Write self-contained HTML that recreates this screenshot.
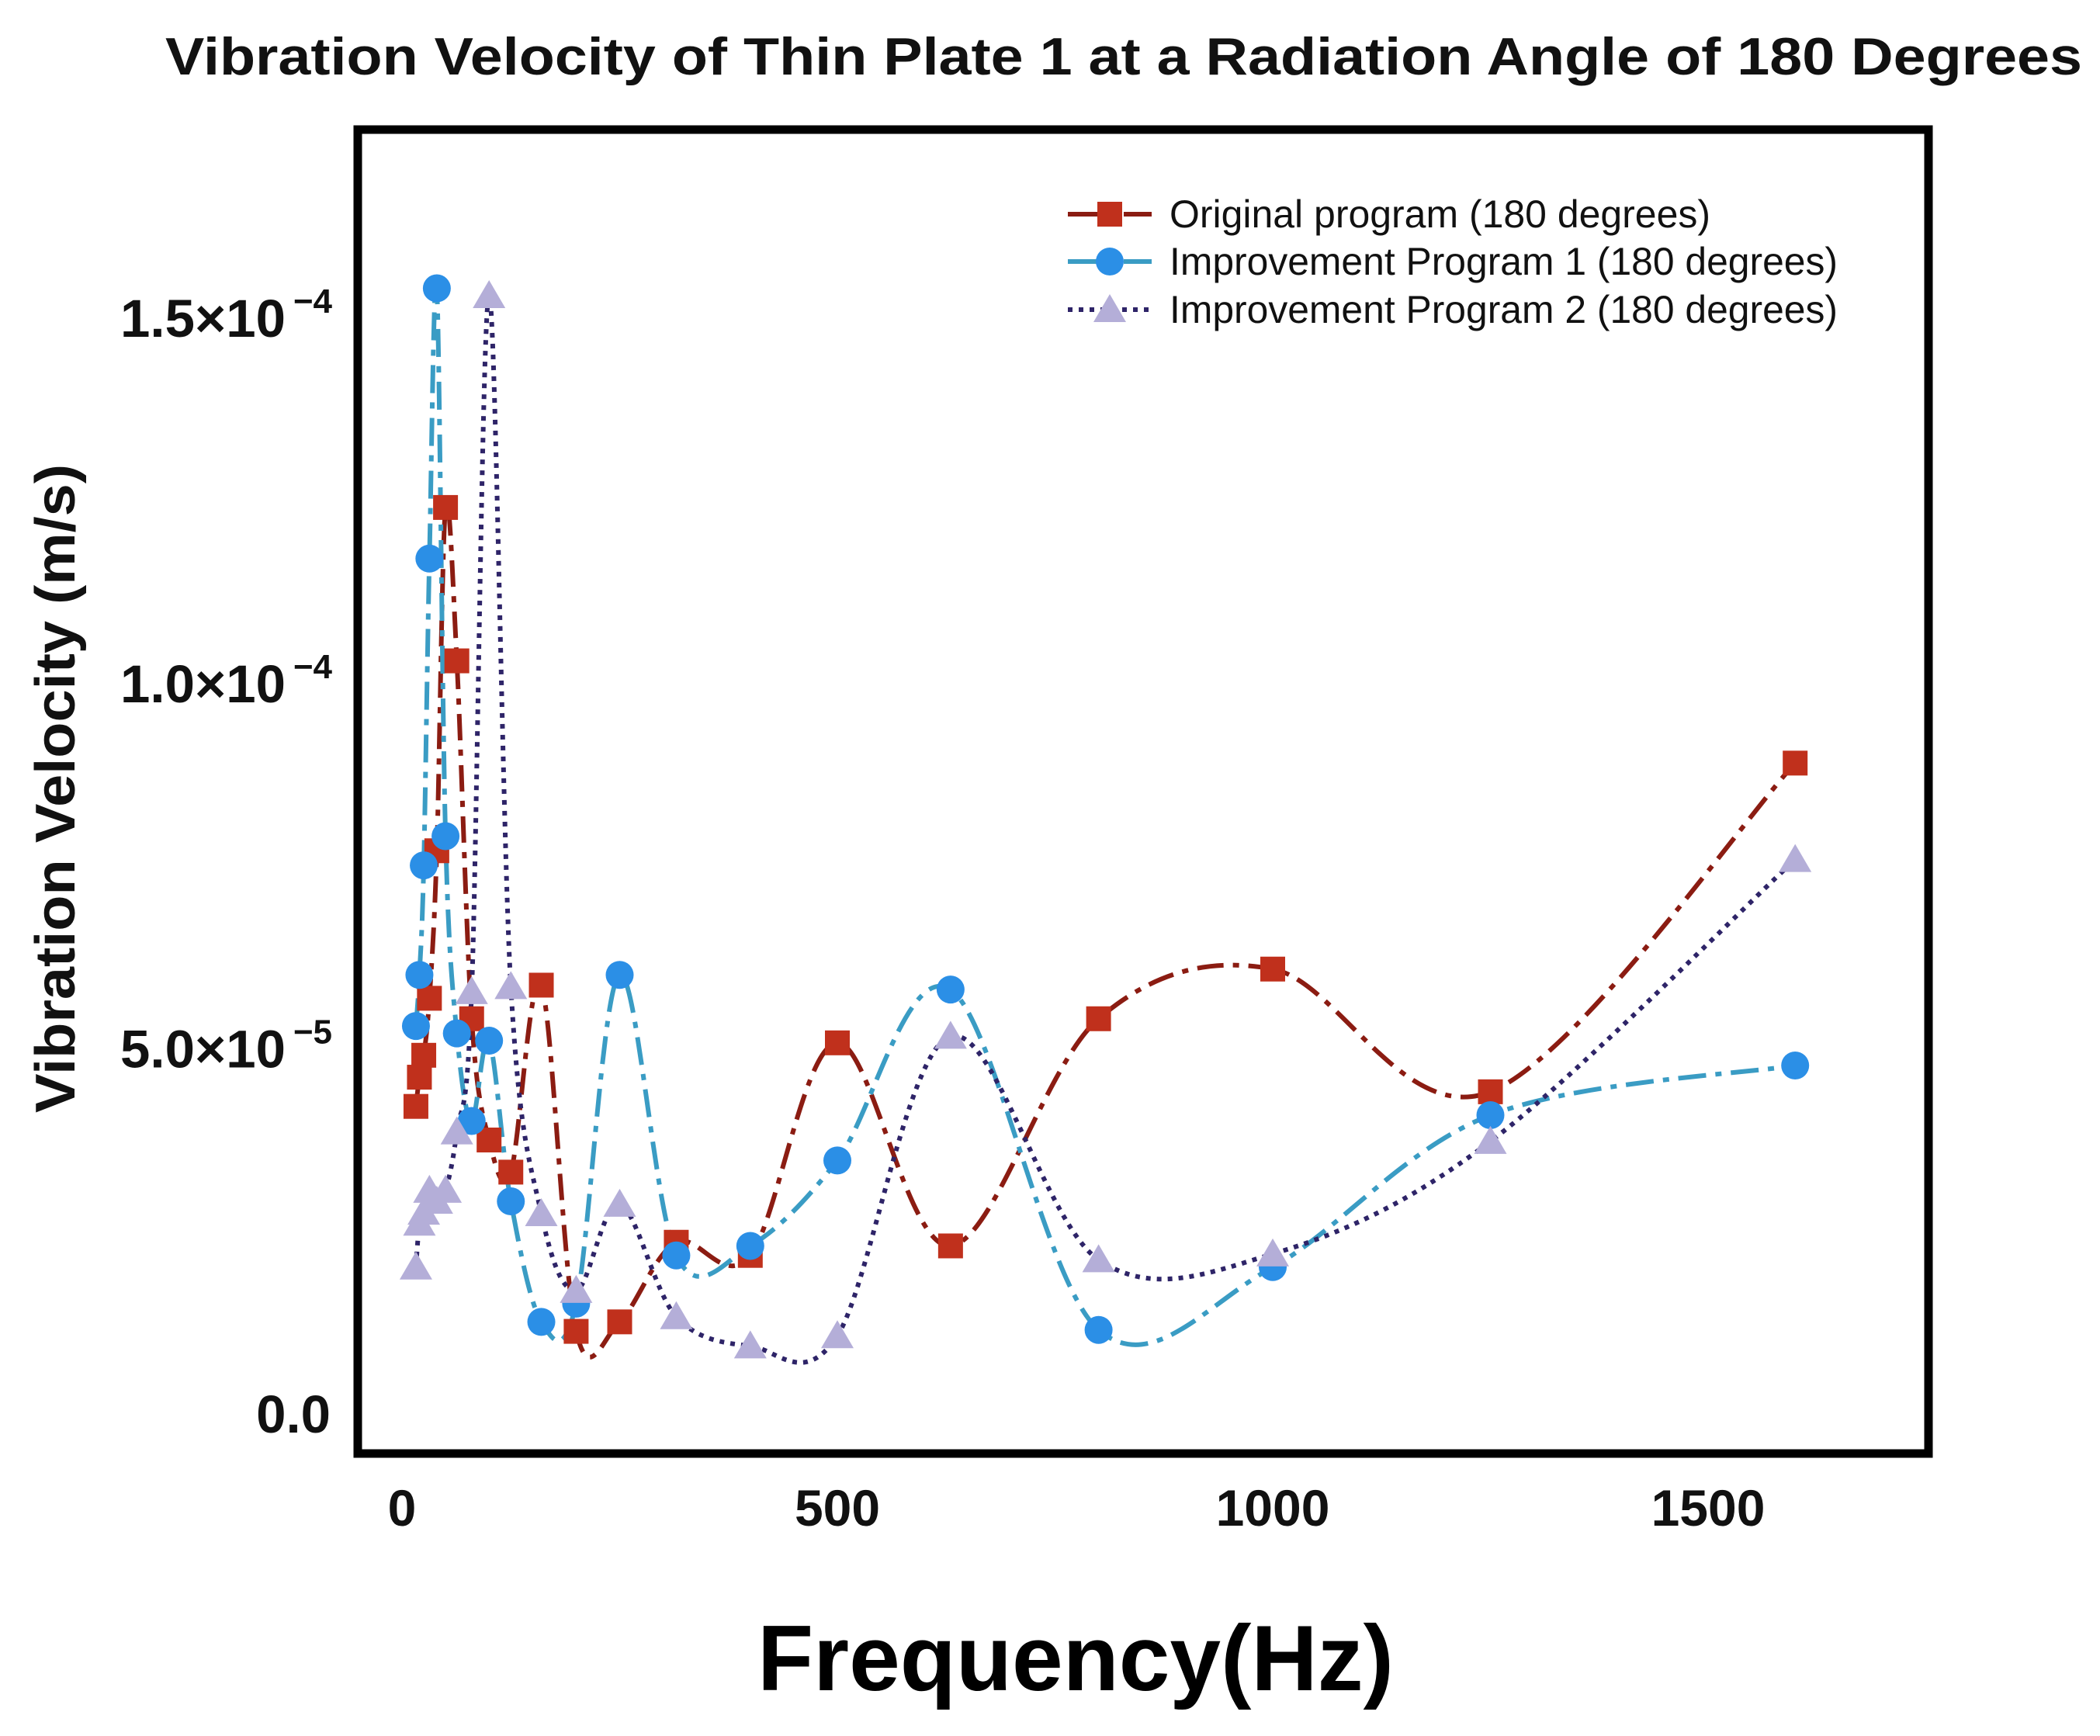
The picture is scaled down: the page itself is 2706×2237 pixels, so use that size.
<!DOCTYPE html>
<html><head><meta charset="utf-8"><style>
html,body{margin:0;padding:0;background:#fff;}
svg{display:block;font-family:"Liberation Sans",Arial,sans-serif;}
</style></head><body>
<svg id="chart" width="2706" height="2237" viewBox="0 0 2706 2237" xmlns="http://www.w3.org/2000/svg">
<text x="1448" y="96" text-anchor="middle" font-size="68" font-weight="bold" fill="#111" textLength="2470" lengthAdjust="spacingAndGlyphs">Vibration Velocity of Thin Plate 1 at a Radiation Angle of 180 Degrees</text>
<rect x="461" y="167" width="2024" height="1706" fill="none" stroke="#000" stroke-width="11"/>
<g id="yticks"></g>
<g id="xticks"></g>
<text transform="translate(96,1016) rotate(-90)" text-anchor="middle" font-size="72" font-weight="bold" fill="#111" textLength="836" lengthAdjust="spacingAndGlyphs">Vibration Velocity (m/s)</text>
<text x="1386" y="2178" text-anchor="middle" font-size="120" font-weight="bold" fill="#000" textLength="820" lengthAdjust="spacingAndGlyphs">Frequency(Hz)</text>
<g id="series"></g>
<g id="legend"></g>
</svg>
<script>
const freqs = [16,20,25,31.5,40,50,63,80,100,125,160,200,250,315,400,500,630,800,1000,1250,1600];
const original = [4.2e-5,4.6e-5,4.9e-5,5.68e-5,7.7e-5,1.24e-4,1.03e-4,5.4e-5,3.74e-5,3.3e-5,5.86e-5,1.12e-5,1.25e-5,2.34e-5,2.16e-5,5.07e-5,2.29e-5,5.4e-5,6.08e-5,4.4e-5,8.9e-5];
const improve1 = [5.3e-5,6.0e-5,7.5e-5,1.17e-4,1.54e-4,7.9e-5,5.2e-5,4.0e-5,5.1e-5,2.9e-5,1.25e-5,1.5e-5,6.0e-5,2.16e-5,2.29e-5,3.46e-5,5.8e-5,1.14e-5,2.0e-5,4.08e-5,4.76e-5];
const improve2 = [2.0e-5,2.6e-5,2.75e-5,3.05e-5,2.9e-5,3.05e-5,3.85e-5,5.77e-5,1.53e-4,5.84e-5,2.73e-5,1.68e-5,2.86e-5,1.32e-5,0.92e-5,1.06e-5,5.16e-5,2.1e-5,2.18e-5,3.72e-5,7.58e-5];
const yTickValues = [0,5e-5,1e-4,1.5e-4];
const yTickMain = ["0.0","5.0×10","1.0×10","1.5×10"];
const yTickExp = ["","−5","−4","−4"];
const xTickValues = [0,500,1000,1500];
const xTickLabels = ["0","500","1000","1500"];
const legendLabels = ["Original program (180 degrees)","Improvement Program 1 (180 degrees)","Improvement Program 2 (180 degrees)"];

const NS="http://www.w3.org/2000/svg";
function xs(v){return 518+v*(561/500);}
function ys(v){return 1821-v*(470.6/5e-5);}
function mk(tag,attrs,parent){const e=document.createElementNS(NS,tag);for(const k in attrs)e.setAttribute(k,attrs[k]);parent.appendChild(e);return e;}

const yt=document.getElementById('yticks');
yTickValues.forEach((v,i)=>{
  const t=mk('text',{x:426,y:ys(v)+25,'text-anchor':'end','font-size':69,'font-weight':'bold',fill:'#111'},yt);
  
  
  if(yTickExp[i]){
    t.setAttribute('x',426-58);
    t.textContent=yTickMain[i];
    const s=mk('text',{x:428,y:ys(v)-6,'text-anchor':'end','font-size':44,'font-weight':'bold',fill:'#111'},yt);
    
    
    s.textContent=yTickExp[i];
  } else t.textContent=yTickMain[i];
});
const xt=document.getElementById('xticks');
xTickValues.forEach((v,i)=>{
  const t=mk('text',{x:xs(v),y:1966,'text-anchor':'middle','font-size':66,'font-weight':'bold',fill:'#111'},xt);
  
  
  t.textContent=xTickLabels[i];
});

function smooth(pts){
  let d=`M${pts[0][0]},${pts[0][1]}`;
  for(let i=0;i<pts.length-1;i++){
    const p0=pts[Math.max(0,i-1)],p1=pts[i],p2=pts[i+1],p3=pts[Math.min(pts.length-1,i+2)];
    const c1x=p1[0]+(p2[0]-p0[0])/6,c1y=p1[1]+(p2[1]-p0[1])/6;
    const c2x=p2[0]-(p3[0]-p1[0])/6,c2y=p2[1]-(p3[1]-p1[1])/6;
    d+=` C${c1x},${c1y} ${c2x},${c2y} ${p2[0]},${p2[1]}`;
  }
  return d;
}
const styles=[
 {name:'original',vals:original,line:'#8b1c12',dash:'34,12,8,12',marker:'square',fill:'#c0301c'},
 {name:'improvement-1',vals:improve1,line:'#3a9cc4',dash:'36,12,8,12',marker:'circle',fill:'#2b8fe6'},
 {name:'improvement-2',vals:improve2,line:'#2e2468',dash:'6,8',marker:'triangle',fill:'#b4aed8'}
];
function marker(type,x,y,fill,parent,name){
  let e;
  if(type==='square') e=mk('rect',{x:x-16,y:y-16,width:32,height:32,fill:fill},parent);
  else if(type==='circle') e=mk('circle',{cx:x,cy:y,r:18,fill:fill},parent);
  else e=mk('polygon',{points:`${x},${y-20} ${x+21},${y+16} ${x-21},${y+16}`,fill:fill},parent);
  
  
  return e;
}
const sg=document.getElementById('series');
styles.forEach(s=>{
  const pts=freqs.map((f,i)=>[xs(f),ys(s.vals[i])]);
  const p=mk('path',{d:smooth(pts),fill:'none',stroke:s.line,'stroke-width':6,'stroke-dasharray':s.dash,'stroke-linecap':'butt'},sg);
  
  
});
styles.forEach(s=>{
  freqs.forEach((f,i)=>marker(s.marker,xs(f),ys(s.vals[i]),s.fill,sg,s.name+'-point'));
});
const lg=document.getElementById('legend');
const rowsY=[276,337,399];
styles.forEach((s,i)=>{
  const y=rowsY[i];
  const l=mk('line',{x1:1376,y1:y,x2:1484,y2:y,stroke:s.line,'stroke-width':6,'stroke-dasharray':s.name==='improvement-2'?'6,8':'40,12,8,12'},lg);
  
  
  marker(s.marker,1430,y,s.fill,lg,'legend-marker');
  const t=mk('text',{x:1507,y:y+17,'font-size':50,fill:'#111'},lg);
  
  
  t.setAttribute('textLength', i===0?697:861);
  t.setAttribute('lengthAdjust','spacingAndGlyphs');
  t.textContent=legendLabels[i];
});
</script>
</body></html>
